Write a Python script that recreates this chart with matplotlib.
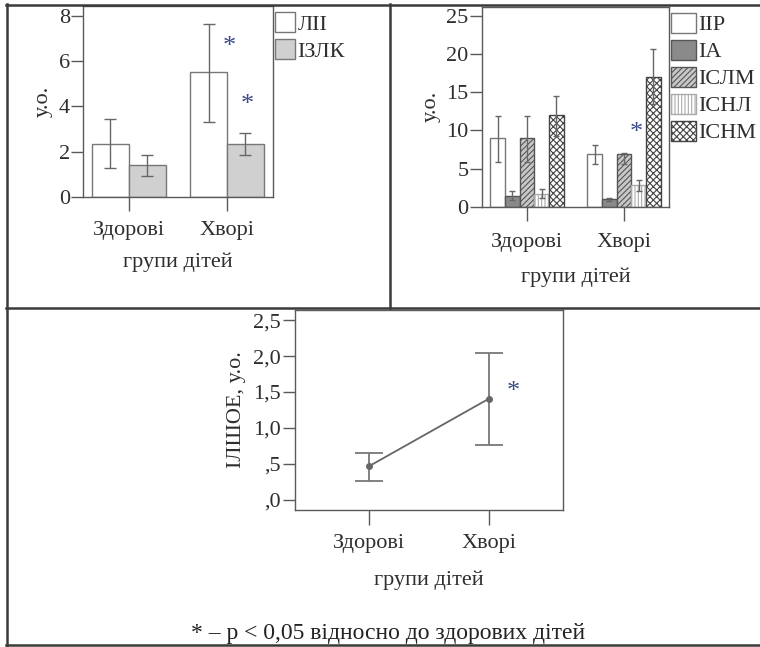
import numpy as np
import matplotlib
matplotlib.use("Agg")
import matplotlib.pyplot as plt
import matplotlib.patches as mpatches
from matplotlib.lines import Line2D

plt.rcParams['font.family'] = ['Liberation Serif', 'DejaVu Serif']
plt.rcParams['font.size'] = 16
plt.rcParams['hatch.linewidth'] = 0.8

W, H = 760, 647
TXT = '#2e2e2e'
GRID = '#5a5a5a'
STAR = '#3a4a8a'

groups = ['Здорові', 'Хворі']

# panel 1: ЛІІ / ІЗЛК
p1_names = ['ЛІІ', 'ІЗЛК']
p1_mean = [[2.35, 5.5], [1.42, 2.35]]
p1_hi = [[3.44, 7.64], [1.86, 2.82]]
p1_lo = [[1.27, 3.33], [0.93, 1.86]]

# panel 2: five indices
p2_names = ['ІІР', 'ІА', 'ІСЛМ', 'ІСНЛ', 'ІСНМ']
p2_mean = [[9.0, 6.85], [1.45, 0.95], [9.0, 6.85], [1.7, 2.8], [12.0, 17.0]]
p2_hi = [[11.9, 8.05], [2.1, 1.2], [11.9, 7.0], [2.3, 3.55], [14.5, 20.6]]
p2_lo = [[5.8, 5.6], [0.85, 0.7], [5.8, 5.6], [1.1, 2.0], [9.3, 13.5]]

# panel 3: ІЛШОЕ
p3_mean = [0.47, 1.41]
p3_hi = [0.65, 2.04]
p3_lo = [0.27, 0.77]

fig = plt.figure(figsize=(W / 100, H / 100), dpi=100)


def rect(l, t, r, b):
    return [l / W, 1 - b / H, (r - l) / W, (b - t) / H]


def style(ax, xlen=10, ylen=8.5, xpad=5):
    for s in ax.spines.values():
        s.set_color(GRID)
        s.set_linewidth(1.0)
    ax.tick_params(axis='x', direction='out', length=xlen, width=1.0, color=GRID,
                   labelcolor=TXT, pad=xpad)
    ax.tick_params(axis='y', direction='out', length=ylen, width=1.0, color=GRID,
                   labelcolor=TXT, pad=1)


x = np.arange(len(groups))

# ---------- top-left ----------
ax1 = fig.add_axes(rect(83, 6, 273, 197))
bw1 = 0.377
p1_style = [dict(facecolor='white', edgecolor='#777777'),
            dict(facecolor='#d0d0d0', edgecolor='#777777')]
handles1 = []
for i, name in enumerate(p1_names):
    xs = x + (i - 0.5) * bw1
    m = np.array(p1_mean[i])
    err = [m - np.array(p1_lo[i]), np.array(p1_hi[i]) - m]
    ax1.bar(xs, m, bw1, linewidth=1.0, **p1_style[i])
    ax1.errorbar(xs, m, yerr=err, fmt='none', ecolor='#666666', elinewidth=1.0,
                 capsize=4.3, capthick=1.0)
    handles1.append(mpatches.Patch(label=name, linewidth=1.0, **p1_style[i]))
ax1.set_xlim(-0.469, 1.469)
ax1.set_ylim(0, 8.43)
ax1.set_yticks([0, 2, 4, 6, 8])
ax1.set_xticks(x, groups)
ax1.set_xlabel('групи дітей', color=TXT, labelpad=9)
ax1.set_ylabel('у.о.', color=TXT, labelpad=4)
style(ax1, xlen=10, ylen=8.5, xpad=7)
ax1.text(1.02, 6.6, '*', ha='center', va='center', color=STAR, fontsize=19)
ax1.text(1.21, 4.05, '*', ha='center', va='center', color=STAR, fontsize=19)
ax1.legend(handles=handles1, loc='upper left', bbox_to_anchor=(1.0, 0.98),
           frameon=False, handlelength=0.9, handleheight=1.0, handletextpad=0.1,
           labelspacing=0.2, borderpad=0.0, borderaxespad=0.1, labelcolor=TXT)

# ---------- top-right ----------
ax2 = fig.add_axes(rect(481.7, 6.7, 669, 206.7))
bw2 = 0.151
p2_style = [dict(facecolor='white', edgecolor='#777777'),
            dict(facecolor='#8a8a8a', edgecolor='#555555'),
            dict(facecolor='#c8c8c8', edgecolor='#555555', hatch='//////'),
            dict(facecolor='white', edgecolor='#aaaaaa', hatch='|||||'),
            dict(facecolor='white', edgecolor='#444444', hatch='xxxxx')]
handles2 = []
for i, name in enumerate(p2_names):
    xs = x + (i - 2) * bw2
    m = np.array(p2_mean[i])
    err = [m - np.array(p2_lo[i]), np.array(p2_hi[i]) - m]
    ax2.bar(xs, m, bw2, linewidth=1.0, **p2_style[i])
    ax2.errorbar(xs, m, yerr=err, fmt='none', ecolor='#666666', elinewidth=1.0,
                 capsize=2.5, capthick=1.0)
    handles2.append(mpatches.Patch(label=name, linewidth=1.0, **p2_style[i]))
ax2.set_xlim(-0.467, 1.464)
ax2.set_ylim(0, 26.2)
ax2.set_yticks([0, 5, 10, 15, 20, 25])
ax2.set_xticks(x, groups)
ax2.set_xlabel('групи дітей', color=TXT, labelpad=11)
ax2.set_ylabel('у.о.', color=TXT, labelpad=4)
style(ax2, xlen=10, ylen=8.5, xpad=9)
ax2.text(1.13, 9.7, '*', ha='center', va='center', color=STAR, fontsize=19)
ax2.legend(handles=handles2, loc='upper left', bbox_to_anchor=(1.0, 0.98),
           frameon=False, handlelength=1.1, handleheight=1.0, handletextpad=0.1,
           labelspacing=0.2, borderpad=0.0, borderaxespad=0.1, labelcolor=TXT)

# ---------- bottom ----------
ax3 = fig.add_axes(rect(295, 310, 563, 510))
m3 = np.array(p3_mean)
err3 = [m3 - np.array(p3_lo), np.array(p3_hi) - m3]
ax3.errorbar(x, m3, yerr=err3, color='#666666', linewidth=1.3, marker='o',
             markersize=4, ecolor='#777777', elinewidth=1.3, capsize=10, capthick=1.3)
ax3.set_xlim(-0.617, 1.614)
ax3.set_ylim(-0.139, 2.64)
ax3.set_yticks([0, 0.5, 1.0, 1.5, 2.0, 2.5], [',0', ',5', '1,0', '1,5', '2,0', '2,5'])
ax3.set_xticks(x, groups)
ax3.set_xlabel('групи дітей', color=TXT, labelpad=13)
ax3.set_ylabel('ІЛШОЕ, у.о.', color=TXT, labelpad=5)
style(ax3, xlen=11, ylen=9, xpad=6)
ax3.text(1.2, 1.5, '*', ha='center', va='center', color=STAR, fontsize=19)

fig.text(388 / W, 1 - 633 / H, '* – р < 0,05 відносно до здорових дітей',
         ha='center', va='center', color='#222222', fontsize=17)

# table borders
def hline(y, x0, x1):
    fig.add_artist(Line2D([x0 / W, x1 / W], [1 - y / H, 1 - y / H],
                          transform=fig.transFigure, color='#3a3a3a', linewidth=1.8))


def vline(xp, y0, y1):
    fig.add_artist(Line2D([xp / W, xp / W], [1 - y0 / H, 1 - y1 / H],
                          transform=fig.transFigure, color='#3a3a3a', linewidth=1.8))


hline(4.7, 6, 760)
hline(308, 6, 760)
hline(645, 6, 760)
vline(6.7, 4, 646)
vline(390, 4, 308)

fig.savefig('out.png', dpi=100)
